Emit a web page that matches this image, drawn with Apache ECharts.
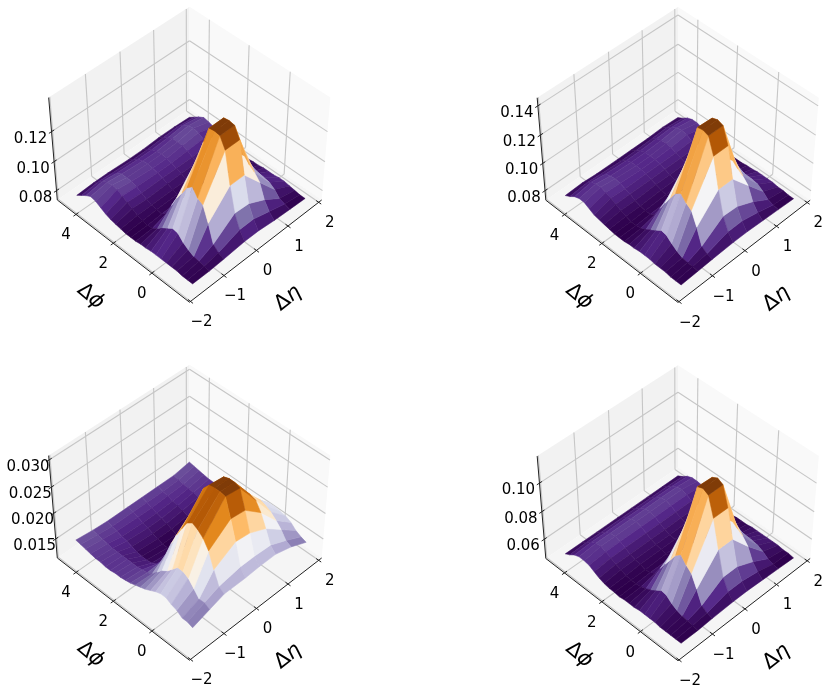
<!DOCTYPE html>
<html>
<head>
<meta charset="utf-8">
<title>Correlation surfaces</title>
<script src="https://cdn.jsdelivr.net/npm/echarts@6/dist/echarts.min.js"></script>
<style>
html, body { margin: 0; background: #fff; }
#main { width: 830px; height: 695px; }
</style>
</head>
<body>
<div id="main"></div>
<script>
// grid of the surfaces
var etaGrid = [-1.75, -1.25, -0.82, -0.18, 0.25, 0.75, 1.25, 1.75];
var phiGrid = [-1.57, -1.31, -1.05, -0.79, -0.52, -0.26, 0.00, 0.26, 0.52, 0.79, 1.05, 1.31,
    1.57, 1.83, 2.09, 2.36, 2.62, 2.88, 3.14, 3.40, 3.67, 3.93, 4.19, 4.45];

// tick values
var etaTicks = [-2, -1, 0, 1, 2];
var etaTickLabels = ['\u22122', '\u22121', '0', '1', '2'];
var phiTicks = [0, 2, 4];
var phiTickLabels = ['0', '2', '4'];
var zTicks1 = [0.08, 0.10, 0.12];
var zTicks2 = [0.08, 0.10, 0.12, 0.14];
var zTicks3 = [0.015, 0.020, 0.025, 0.030];
var zTicks4 = [0.06, 0.08, 0.10];
var zDigits = [2, 2, 3, 2];

// surface min / max of each panel, heights below are percent of that range
var zRange1 = [0.0765, 0.1387];
var zRange2 = [0.0762, 0.1421];
var zRange3 = [0.01205, 0.0299];
var zRange4 = [0.0490, 0.1150];

// one row per phi, one column per eta
var heights1 = [
    [2, 2, 3, 5, 5, 3, 2, 1],
    [2, 3, 6, 14, 14, 9, 4, 1],
    [2, 4, 11, 28, 27, 18, 6, 2],
    [3, 5, 30, 54, 54, 33, 12, 3],
    [3, 8, 46, 87, 87, 40, 16, 4],
    [3, 12, 49, 98, 98, 44, 17, 4],
    [3, 18, 57, 99, 99, 50, 16, 3],
    [3, 19, 52, 98, 98, 48, 13, 3],
    [3, 15, 42, 80, 78, 32, 10, 3],
    [2, 11, 32, 60, 58, 22, 8, 2],
    [2, 6, 20, 38, 36, 14, 5, 2],
    [1, 2, 7, 15, 15, 6, 3, 1],
    [1, 1, 2, 3, 3, 2, 1, 1],
    [1, 2, 3, 3, 3, 3, 2, 1],
    [2, 4, 4, 4, 4, 5, 4, 2],
    [3, 7, 6, 7, 7, 7, 7, 3],
    [4, 10, 9, 9, 9, 9, 10, 5],
    [6, 13, 12, 11, 11, 12, 13, 7],
    [9, 16, 14, 12, 12, 14, 16, 10],
    [12, 17, 14, 13, 13, 14, 17, 12],
    [13, 16, 14, 12, 12, 14, 16, 13],
    [10, 13, 11, 10, 10, 11, 13, 10],
    [6, 8, 7, 6, 6, 7, 8, 6],
    [2, 3, 3, 2, 2, 3, 3, 2]
];
var heights2 = [
    [1, 2, 3, 4, 4, 3, 2, 1],
    [1, 3, 5, 12, 12, 8, 3, 1],
    [1, 3, 9, 25, 24, 16, 5, 2],
    [2, 4, 26, 50, 50, 30, 10, 2],
    [2, 7, 40, 81, 81, 36, 14, 3],
    [2, 11, 44, 98, 98, 40, 15, 3],
    [3, 16, 50, 100, 100, 45, 14, 3],
    [3, 17, 46, 99, 98, 43, 11, 3],
    [3, 13, 37, 75, 72, 28, 8, 2],
    [2, 9, 27, 55, 52, 18, 6, 2],
    [2, 5, 17, 33, 31, 11, 4, 1],
    [1, 2, 6, 13, 12, 5, 2, 1],
    [1, 1, 2, 3, 3, 2, 1, 1],
    [1, 1, 2, 3, 3, 3, 2, 1],
    [2, 3, 3, 4, 4, 4, 3, 2],
    [3, 5, 5, 6, 6, 6, 5, 3],
    [4, 8, 8, 8, 8, 8, 8, 4],
    [5, 11, 10, 10, 10, 10, 11, 6],
    [8, 13, 12, 11, 11, 12, 14, 9],
    [11, 15, 13, 11, 11, 13, 15, 11],
    [11, 14, 12, 11, 11, 12, 14, 11],
    [9, 12, 10, 9, 9, 10, 11, 9],
    [5, 7, 6, 5, 5, 6, 7, 5],
    [2, 3, 2, 2, 2, 2, 3, 2]
];
var heights3 = [
    [18, 24, 29, 29, 30, 30, 25, 17],
    [20, 27, 33, 37, 37, 36, 28, 19],
    [20, 27, 47, 60, 58, 50, 36, 22],
    [24, 34, 63, 80, 78, 63, 42, 27],
    [26, 41, 72, 99, 97, 72, 47, 30],
    [29, 44, 77, 100, 99, 74, 50, 31],
    [29, 44, 80, 100, 99, 73, 52, 32],
    [27, 38, 76, 99, 97, 70, 50, 32],
    [24, 32, 66, 92, 88, 62, 45, 30],
    [21, 28, 55, 74, 70, 50, 38, 27],
    [19, 22, 42, 50, 48, 42, 30, 22],
    [17, 16, 27, 28, 28, 30, 24, 19],
    [15, 13, 14, 12, 13, 18, 18, 16],
    [14, 12, 7, 4, 5, 10, 13, 14],
    [13, 11, 4, 1, 2, 6, 10, 13],
    [13, 11, 3, 0, 0, 3, 8, 13],
    [12, 11, 3, 0, 0, 2, 7, 12],
    [12, 11, 4, 2, 2, 4, 8, 12],
    [13, 11, 6, 4, 4, 6, 9, 13],
    [13, 11, 8, 6, 6, 8, 10, 13],
    [14, 12, 9, 8, 8, 9, 11, 14],
    [15, 13, 11, 10, 10, 11, 12, 15],
    [16, 14, 12, 12, 12, 12, 13, 16],
    [17, 15, 14, 14, 14, 14, 14, 17]
];
var heights4 = [
    [1, 1, 2, 3, 3, 2, 1, 0],
    [1, 2, 4, 10, 10, 7, 2, 1],
    [1, 3, 8, 22, 22, 14, 4, 1],
    [1, 4, 22, 48, 48, 27, 8, 2],
    [1, 6, 35, 77, 77, 34, 11, 2],
    [2, 9, 40, 97, 97, 38, 12, 2],
    [2, 14, 47, 100, 100, 42, 11, 2],
    [2, 15, 42, 98, 97, 40, 9, 2],
    [2, 11, 33, 73, 70, 25, 6, 2],
    [1, 7, 24, 52, 50, 15, 5, 1],
    [1, 4, 15, 30, 28, 9, 3, 1],
    [1, 2, 5, 11, 10, 4, 2, 1],
    [0, 1, 2, 2, 2, 2, 1, 0],
    [1, 1, 1, 2, 2, 1, 1, 1],
    [1, 2, 3, 3, 3, 3, 2, 1],
    [2, 4, 4, 4, 4, 4, 4, 2],
    [4, 6, 6, 6, 6, 6, 6, 4],
    [7, 9, 9, 9, 9, 9, 9, 7],
    [10, 12, 12, 12, 12, 12, 12, 10],
    [11, 14, 14, 14, 14, 14, 14, 11],
    [11, 13, 13, 13, 13, 13, 13, 11],
    [9, 10, 10, 10, 10, 10, 10, 9],
    [5, 6, 6, 6, 6, 6, 6, 5],
    [2, 2, 2, 2, 2, 2, 2, 2]
];

// PuOr_r
var colorStops = ['#2d004b', '#542788', '#8073ac', '#b2abd2', '#d8daeb', '#f7f7f7',
    '#fee0b6', '#fdb863', '#e08214', '#b35806', '#7f3b08'];

var heights = [heights1, heights2, heights3, heights4];
var zRanges = [zRange1, zRange2, zRange3, zRange4];
var zTicks = [zTicks1, zTicks2, zTicks3, zTicks4];

// box limits
var etaLim = [-2.03, 2.10];
var phiLim = [-1.885, 5.027];

// camera, same numbers as mplot3d's default box
var elev = 45 * Math.PI / 180;
var azim = -135 * Math.PI / 180;
var dist = 10;
var boxSize = [1.1905, 1.1905, 0.8929];
var pxPerUnit = 1620;
var panelSize = 300;
var panelCenters = [[189.5, 150.4], [678, 150.6], [189.5, 508.4], [678, 508.9]];

var camW = [Math.cos(elev) * Math.cos(azim), Math.cos(elev) * Math.sin(azim), Math.sin(elev)];
var camU = [Math.SQRT1_2, -Math.SQRT1_2, 0];
var camV = [
    camW[1] * camU[2] - camW[2] * camU[1],
    camW[2] * camU[0] - camW[0] * camU[2],
    camW[0] * camU[1] - camW[1] * camU[0]
];

function zLimits(p) {
    var r = zRanges[p], m = (r[1] - r[0]) * 0.05;
    return [r[0] - m, r[1] + m];
}

// world coordinates -> camera coordinates [x, y, depth]
function toCamera(p, pt) {
    var zl = zLimits(p);
    var q = [
        ((pt[0] - etaLim[0]) / (etaLim[1] - etaLim[0]) - 0.5) * boxSize[0],
        ((pt[1] - phiLim[0]) / (phiLim[1] - phiLim[0]) - 0.5) * boxSize[1],
        ((pt[2] - zl[0]) / (zl[1] - zl[0]) - 0.5) * boxSize[2]
    ];
    return [
        q[0] * camU[0] + q[1] * camU[1] + q[2] * camU[2],
        q[0] * camV[0] + q[1] * camV[1] + q[2] * camV[2],
        dist - (q[0] * camW[0] + q[1] * camW[1] + q[2] * camW[2])
    ];
}

function project(p, pt) {
    var c = toCamera(p, pt);
    return [c[0] / c[2], c[1] / c[2]];
}

function hexToRgb(h) {
    return [parseInt(h.substr(1, 2), 16), parseInt(h.substr(3, 2), 16), parseInt(h.substr(5, 2), 16)];
}

function cmap(t) {
    t = Math.max(0, Math.min(1, t));
    var s = t * (colorStops.length - 1);
    var k = Math.min(Math.floor(s), colorStops.length - 2);
    var a = hexToRgb(colorStops[k]), b = hexToRgb(colorStops[k + 1]);
    var f = s - k;
    return 'rgb(' + Math.round(a[0] + (b[0] - a[0]) * f) + ',' +
        Math.round(a[1] + (b[1] - a[1]) * f) + ',' +
        Math.round(a[2] + (b[2] - a[2]) * f) + ')';
}

function surfacePoint(p, i, j) {
    var r = zRanges[p];
    return [etaGrid[j], phiGrid[i], r[0] + heights[p][i][j] / 100 * (r[1] - r[0])];
}

// faces of one panel, far ones first like mplot3d does
function buildFaces(p) {
    var faces = [], i, j;
    var minM = Infinity, maxM = -Infinity;
    for (i = 0; i < phiGrid.length - 1; i++) {
        for (j = 0; j < etaGrid.length - 1; j++) {
            var pts = [surfacePoint(p, i, j), surfacePoint(p, i, j + 1),
                surfacePoint(p, i + 1, j + 1), surfacePoint(p, i + 1, j)];
            var depth = 0, mean = 0;
            pts.forEach(function (q) {
                depth += toCamera(p, q)[2];
                mean += q[2];
            });
            mean /= 4;
            minM = Math.min(minM, mean);
            maxM = Math.max(maxM, mean);
            faces.push({pts: pts, depth: depth, mean: mean});
        }
    }
    faces.forEach(function (f) {
        f.color = cmap((f.mean - minM) / (maxM - minM));
    });
    faces.sort(function (a, b) { return b.depth - a.depth; });
    return faces;
}

// panes, grid lines, axis lines, ticks and labels of one panel
function buildFrame(p) {
    var items = [];
    var zl = zLimits(p);
    var e0 = etaLim[0], e1 = etaLim[1], f0 = phiLim[0], f1 = phiLim[1], z0 = zl[0], z1 = zl[1];
    var gridColor = '#c6c6c6', axisColor = '#222222';

    function poly(pts, fill) { items.push({kind: 'poly', pts: pts, fill: fill}); }
    function line(a, b, color, w) { items.push({kind: 'line', pts: [a, b], color: color, w: w}); }
    function label(pt, dx, dy, text, size) {
        items.push({kind: 'text', pts: [pt], dx: dx, dy: dy, text: text, size: size});
    }

    poly([[e0, f1, z0], [e1, f1, z0], [e1, f1, z1], [e0, f1, z1]], '#f2f2f2');
    poly([[e1, f0, z0], [e1, f1, z0], [e1, f1, z1], [e1, f0, z1]], '#f9f9f9');
    poly([[e0, f0, z0], [e1, f0, z0], [e1, f1, z0], [e0, f1, z0]], '#f5f5f5');

    etaTicks.forEach(function (t, k) {
        var de = (f1 - f0) * 0.018;
        line([t, f0, z0], [t, f1, z0], gridColor, 1.1);
        line([t, f1, z0], [t, f1, z1], gridColor, 1.1);
        line([t, f0 - de, z0], [t, f0 + de, z0], axisColor, 1);
        label([t, f0, z0], 11, 21, etaTickLabels[k], 15);
    });
    phiTicks.forEach(function (t, k) {
        var de = (e1 - e0) * 0.018;
        line([e0, t, z0], [e1, t, z0], gridColor, 1.1);
        line([e1, t, z0], [e1, t, z1], gridColor, 1.1);
        line([e0 - de, t, z0], [e0 + de, t, z0], axisColor, 1);
        label([e0, t, z0], -10, 21, phiTickLabels[k], 15);
    });
    zTicks[p].forEach(function (t) {
        var de = (e1 - e0) * 0.018;
        line([e0, f1, t], [e1, f1, t], gridColor, 1.1);
        line([e1, f1, t], [e1, f0, t], gridColor, 1.1);
        line([e0 - de, f1, t], [e0 + de, f1, t], axisColor, 1);
        label([e0, f1, t], -21, 7, t.toFixed(zDigits[p]), 15);
    });

    line([e0, f0, z0], [e1, f0, z0], axisColor, 1);
    line([e0, f0, z0], [e0, f1, z0], axisColor, 1);
    line([e0, f1, z0], [e0, f1, z1], axisColor, 1);
    return items;
}

function frameElement(item, api) {
    var pts = item.pts.map(function (q) { return api.coord(q.proj); });
    if (item.kind === 'poly') {
        return {type: 'polygon', shape: {points: pts}, style: {fill: item.fill}, silent: true};
    }
    if (item.kind === 'line') {
        return {type: 'line', shape: {x1: pts[0][0], y1: pts[0][1], x2: pts[1][0], y2: pts[1][1]},
            style: {stroke: item.color, lineWidth: item.w}, silent: true};
    }
    return {type: 'text', x: pts[0][0] + item.dx, y: pts[0][1] + item.dy, silent: true,
        style: {text: item.text, fill: '#000', font: item.size + 'px "DejaVu Sans"',
            align: 'center', verticalAlign: 'middle'}};
}

var grids = [], xAxes = [], yAxes = [], series = [];

panelCenters.forEach(function (c, p) {
    var half = panelSize / 2 / pxPerUnit;
    grids.push({left: c[0] - panelSize / 2, top: c[1] - panelSize / 2, width: panelSize, height: panelSize});
    xAxes.push({type: 'value', gridIndex: p, min: -half, max: half, show: false});
    yAxes.push({type: 'value', gridIndex: p, min: -half, max: half, show: false});

    var frame = buildFrame(p);
    frame.forEach(function (item) {
        item.pts = item.pts.map(function (q) { return {proj: project(p, q)}; });
    });
    series.push({
        type: 'custom',
        xAxisIndex: p,
        yAxisIndex: p,
        clip: false,
        silent: true,
        data: frame.map(function (item) { return item.pts[0].proj; }),
        renderItem: function (params, api) {
            return frameElement(frame[params.dataIndex], api);
        }
    });

    var faces = buildFaces(p);
    faces.forEach(function (f) {
        f.proj = f.pts.map(function (q) { return project(p, q); });
    });
    series.push({
        type: 'custom',
        xAxisIndex: p,
        yAxisIndex: p,
        clip: false,
        silent: true,
        data: faces.map(function (f) { return f.proj[0]; }),
        renderItem: function (params, api) {
            var f = faces[params.dataIndex];
            return {
                type: 'polygon',
                shape: {points: f.proj.map(function (q) { return api.coord(q); })},
                style: {fill: f.color, stroke: f.color, lineWidth: 0.5},
                silent: true
            };
        }
    });
});

// axis titles, rotated along the box edges
var titleRich = {
    u: {font: '21px "DejaVu Sans"', fill: '#000'},
    i: {font: 'italic 21px "DejaVu Sans"', fill: '#000'}
};
var titles = [];
panelCenters.forEach(function (c) {
    titles.push({type: 'text', x: c[0] - 99, y: c[1] + 146, rotation: -40 * Math.PI / 180, silent: true,
        style: {text: '{u|\u0394}{i|\u03d5}', rich: titleRich, align: 'center', verticalAlign: 'middle'}});
    titles.push({type: 'text', x: c[0] + 98.5, y: c[1] + 148, rotation: 38 * Math.PI / 180, silent: true,
        style: {text: '{u|\u0394}{i|\u03b7}', rich: titleRich, align: 'center', verticalAlign: 'middle'}});
});

var chart = echarts.init(document.getElementById('main'));
chart.setOption({
    animation: false,
    backgroundColor: '#ffffff',
    grid: grids,
    xAxis: xAxes,
    yAxis: yAxes,
    series: series,
    graphic: titles
});
</script>
</body>
</html>
